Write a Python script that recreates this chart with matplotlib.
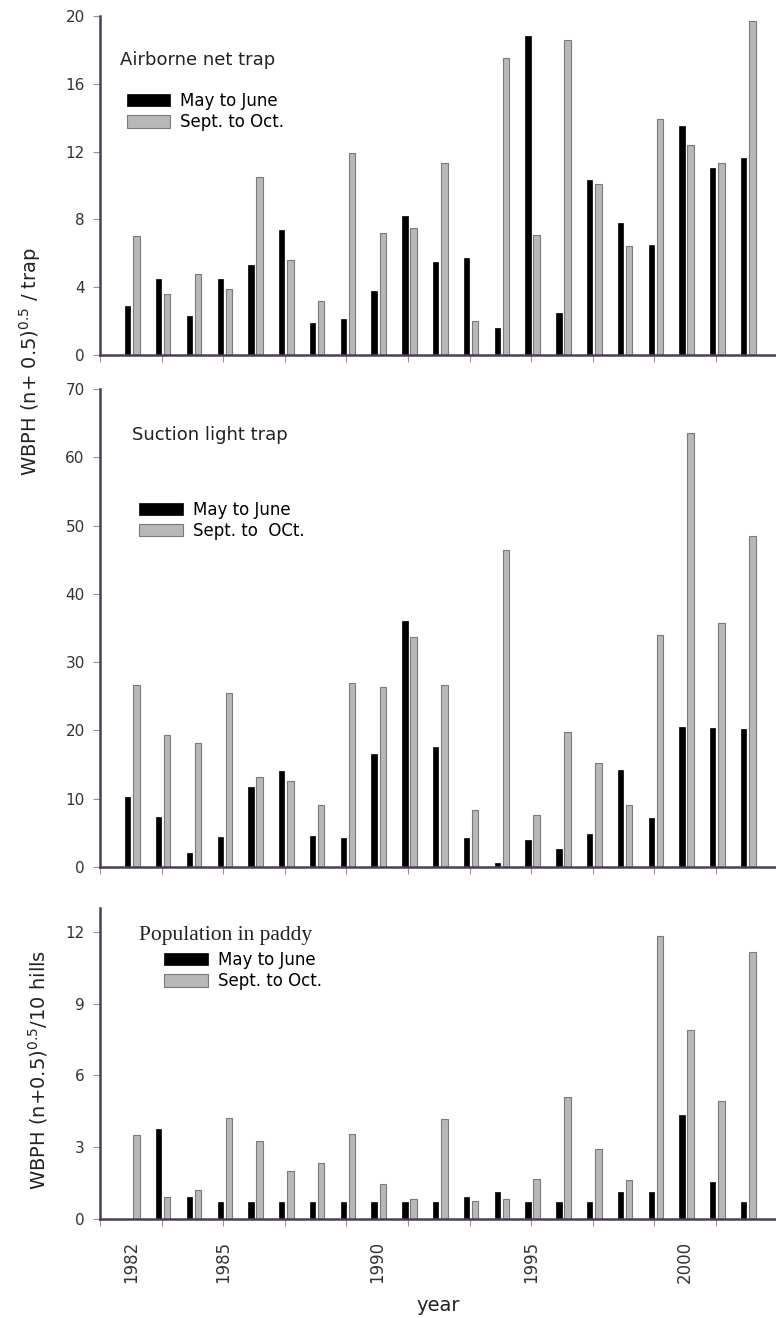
import numpy as np
import matplotlib
matplotlib.use("Agg")
import matplotlib.pyplot as plt

plt.rcParams["font.family"] = ["DejaVu Sans"]
plt.rcParams["mathtext.default"] = "regular"

years = np.arange(1982, 2003)

# Airborne net trap
net_may = [2.9, 4.5, 2.3, 4.5, 5.3, 7.4, 1.9, 2.1, 3.8, 8.2, 5.5,
           5.7, 1.6, 18.8, 2.5, 10.3, 7.8, 6.5, 13.5, 11.0, 11.6]
net_sep = [7.0, 3.6, 4.8, 3.9, 10.5, 5.6, 3.2, 11.9, 7.2, 7.5, 11.3,
           2.0, 17.5, 7.1, 18.6, 10.1, 6.4, 13.9, 12.4, 11.3, 19.7]

# Suction light trap
light_may = [10.2, 7.3, 2.1, 4.4, 11.7, 14.1, 4.5, 4.3, 16.5, 36.0, 17.5,
             4.2, 0.6, 3.9, 2.6, 4.9, 14.2, 7.1, 20.5, 20.3, 20.2]
light_sep = [26.7, 19.3, 18.2, 25.5, 13.2, 12.6, 9.1, 26.9, 26.3, 33.7, 26.7,
             8.4, 46.4, 7.6, 19.7, 15.2, 9.1, 34.0, 63.6, 35.7, 48.4]

# Population in paddy
paddy_may = [0.0, 3.78, 0.91, 0.73, 0.73, 0.73, 0.73, 0.73, 0.73, 0.73, 0.73,
             0.94, 1.15, 0.73, 0.73, 0.73, 1.15, 1.15, 4.33, 1.54, 0.73]
paddy_sep = [3.5, 0.94, 1.22, 4.24, 3.27, 2.0, 2.35, 3.57, 1.45, 0.84, 4.2,
             0.77, 0.84, 1.69, 5.08, 2.93, 1.62, 11.82, 7.91, 4.93, 11.15]

year_labels = [1982, 1985, 1990, 1995, 2000]

SPINE = "#4d3d5a"
GRAY = "#b8b8b8"

fig = plt.figure(figsize=(7.76, 13.18), dpi=100)

panels = [
    # rect, may, sep, ylim, yticks, title, title_pos, legend_anchor, sep_label
    ([0.1289, 0.7307, 0.8711, 0.2572], net_may, net_sep, 20, np.arange(0, 21, 4),
     "Airborne net trap", (0.03, 0.87), (0.04, 0.776), "Sept. to Oct."),
    ([0.1289, 0.3422, 0.8711, 0.3627], light_may, light_sep, 70, np.arange(0, 71, 10),
     "Suction light trap", (0.047, 0.904), (0.058, 0.766), "Sept. to  OCt."),
    ([0.1289, 0.0751, 0.8711, 0.2360], paddy_may, paddy_sep, 13, np.arange(0, 13, 3),
     "Population in paddy", (0.058, 0.91), (0.095, 0.862), "Sept. to Oct."),
]

axes = []
for i, (rect, may, sep, ytop, yt, title, tpos, lpos, seplab) in enumerate(panels):
    ax = fig.add_axes(rect)
    b1 = ax.bar(years - 0.1, may, width=0.17, color="black", edgecolor="black",
                linewidth=0.5, label="May to June")
    b2 = ax.bar(years + 0.18, sep, width=0.21, color=GRAY, edgecolor="#7a7a7a",
                linewidth=0.8, label=seplab)
    ax.set_xlim(1981, 2002.95)
    ax.set_ylim(0, ytop)
    ax.set_yticks(yt)
    ax.set_xticks(np.arange(1981, 2003, 2))
    ax.set_xticklabels([])
    for s in ["top", "right"]:
        ax.spines[s].set_visible(False)
    for s in ["left", "bottom"]:
        ax.spines[s].set_color(SPINE)
        ax.spines[s].set_linewidth(1.8)
    ax.tick_params(axis="both", which="major", direction="out", length=5,
                   width=0.8, color="#9a8fa3", labelsize=11, labelcolor="#333333")
    ax.tick_params(axis="y", pad=6)
    if i < 2:
        ax.text(tpos[0], tpos[1], title, transform=ax.transAxes, fontsize=13,
                va="center", ha="left", color="#222222")
    else:
        ax.text(tpos[0], tpos[1], title, transform=ax.transAxes, fontsize=15.5,
                family="Liberation Serif", va="center", ha="left", color="#222222")
    ax.legend(handles=[b1, b2], loc="upper left", bbox_to_anchor=lpos,
              frameon=False, fontsize=12, handlelength=2.6, handleheight=0.75,
              handletextpad=0.6, labelspacing=0.2, borderpad=0, borderaxespad=0)
    axes.append(ax)

ax = axes[2]
ax.xaxis.remove_overlapping_locs = False
ax.set_xticks(year_labels, labels=[str(y) for y in year_labels], minor=True)
ax.tick_params(axis="x", which="minor", length=0, rotation=90, labelsize=12,
               pad=16, labelcolor="#333333")
ax.set_xlabel("year", fontsize=14, labelpad=9, color="#222222")

fig.text(30 / 776, 1 - 362 / 1318, "WBPH (n+ 0.5)$^{0.5}$ / trap", rotation=90,
         ha="center", va="center", fontsize=14, color="#222222")
fig.text(38 / 776, 1 - 1070 / 1318, "WBPH (n+0.5)$^{0.5}$/10 hills", rotation=90,
         ha="center", va="center", fontsize=14, color="#222222")

fig.savefig("out.png", dpi=100)
